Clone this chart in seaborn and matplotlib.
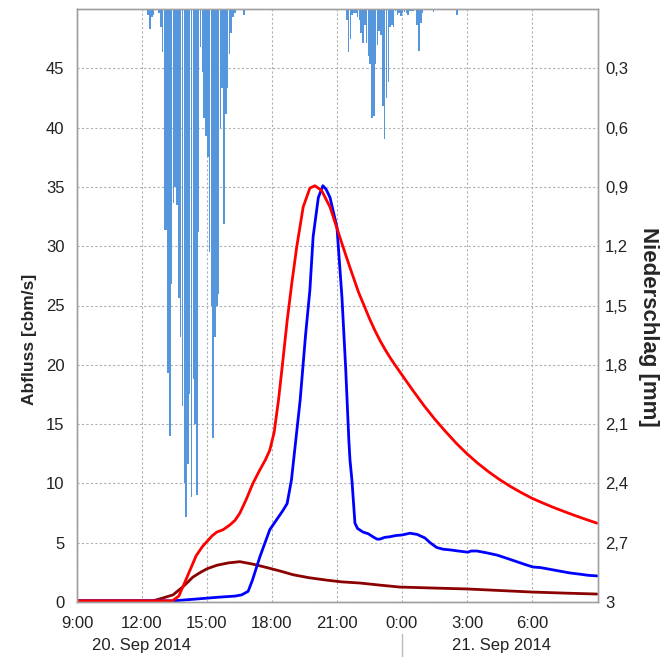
import matplotlib
matplotlib.use("Agg")
import matplotlib.pyplot as plt
import matplotlib.transforms as mtransforms
import numpy as np
import pandas as pd
import seaborn as sns

# time axis: hours since 0:00 on 20 Sep 2014
sim_t = [9.0, 13.4, 13.7, 14.08, 14.5, 14.8, 15.05, 15.25, 15.46, 15.75, 16.06, 16.3,
         16.52, 16.8, 17.12, 17.4, 17.7, 17.9, 18.1, 18.3, 18.5, 18.7, 18.91, 19.14,
         19.44, 19.75, 19.98, 20.29, 20.68, 21.27, 21.6, 22.0, 22.5, 22.75, 23.0, 23.25,
         23.5, 23.77, 24.0, 24.5, 25.0, 25.5, 26.0, 26.5, 27.0, 27.5, 28.0, 28.5, 29.0,
         29.5, 30.0, 30.5, 31.0, 31.5, 32.0, 32.5, 33.0]
sim_q = [0.1, 0.1, 0.5, 2.1, 3.9, 4.7, 5.2, 5.6, 5.9, 6.1, 6.5, 6.9,
         7.5, 8.6, 10.0, 11.0, 12.0, 12.8, 14.3, 17.0, 20.3, 23.7, 26.8, 29.9,
         33.3, 34.9, 35.1, 34.7, 33.3, 30.0, 28.2, 26.1, 23.9, 22.9, 22.0, 21.2,
         20.47, 19.75, 19.15, 17.85, 16.6, 15.45, 14.4, 13.4, 12.5, 11.7, 10.98, 10.33, 9.75,
         9.23, 8.75, 8.35, 7.97, 7.62, 7.28, 6.96, 6.65]

obs_t = [9.0, 13.45, 14.5, 15.5, 16.3, 16.6, 16.9, 17.1, 17.44, 17.9, 18.5, 18.7, 18.9,
         19.3, 19.55, 19.75, 19.9, 20.14, 20.35, 20.5, 20.68, 21.0, 21.23, 21.4,
         21.55, 21.6, 21.69, 21.83, 21.95, 22.2, 22.45, 22.66, 22.85, 22.98, 23.2,
         23.44, 23.7, 24.0, 24.37, 24.7, 25.06, 25.3, 25.6, 25.9, 26.2, 26.6, 27.04,
         27.2, 27.46, 27.9, 28.4, 28.9, 29.3, 29.7, 30.05, 30.4, 30.85, 31.3, 31.75,
         32.2, 32.6, 33.0]
obs_q = [0.1, 0.1, 0.25, 0.4, 0.5, 0.6, 0.9, 1.85, 3.8, 6.1, 7.7, 8.3, 10.3,
         17.0, 22.5, 26.3, 30.8, 34.1, 35.1, 34.8, 34.1, 31.6, 25.7, 19.8,
         13.6, 12.0, 10.3, 6.65, 6.2, 5.9, 5.75, 5.5, 5.3, 5.3, 5.45,
         5.5, 5.6, 5.65, 5.8, 5.7, 5.4, 5.0, 4.6, 4.45, 4.4, 4.3, 4.2,
         4.3, 4.3, 4.15, 3.95, 3.65, 3.4, 3.15, 2.95, 2.9, 2.75, 2.6, 2.45,
         2.35, 2.25, 2.2]

base_t = [9.0, 12.5, 12.9, 13.43, 13.9, 14.35, 14.7, 15.0, 15.46, 16.0, 16.52, 17.1,
          17.77, 18.4, 18.97, 19.7, 20.5, 21.2, 22.06, 23.0, 23.9, 25.4, 27.0, 28.5,
          30.0, 31.5, 33.0]
base_q = [0.1, 0.1, 0.3, 0.6, 1.3, 2.1, 2.5, 2.8, 3.1, 3.3, 3.4, 3.2,
          2.9, 2.6, 2.3, 2.05, 1.85, 1.7, 1.6, 1.42, 1.26, 1.18, 1.1, 0.97,
          0.84, 0.75, 0.67]

# precipitation in mm per 5 minutes
rain1_start = 12.25   # 12:15
rain1_mm = [0.03, 0.10, 0.04, 0.03, 0.0, 0.0, 0.02, 0.09, 0.22, 1.12, 1.12, 1.84,
            2.16, 1.39, 0.98, 0.90, 0.99, 1.46, 1.66, 2.01, 2.40, 2.57, 2.30, 1.95,
            2.47, 1.87, 2.10, 2.46, 1.13, 0.19, 0.32, 0.55, 0.64, 0.75, 1.23, 1.50,
            2.17, 1.66, 1.50, 1.44, 0.60, 0.40, 1.09, 0.53, 0.40, 0.23, 0.12, 0.04,
            0.02, 0.0, 0.0, 0.0, 0.0, 0.03]
rain2_start = 21 + 25 / 60   # 21:25
rain2_mm = [0.055, 0.22, 0.15, 0.03, 0.02, 0.02, 0.04, 0.055, 0.12, 0.17, 0.08, 0.17,
            0.24, 0.28, 0.55, 0.54, 0.28, 0.18, 0.11, 0.13, 0.49, 0.66, 0.45, 0.37,
            0.09, 0.08, 0.09, 0.01, 0.03, 0.02, 0.035, 0.02, 0.015, 0.02, 0.03, 0.01,
            0.01, 0.01, 0.0, 0.08, 0.21, 0.07, 0.02]
rain3_t = [25.42, 26.5]
rain3_mm = [0.015, 0.03]

x_ticks = [9, 12, 15, 18, 21, 24, 27, 30]
x_labels = ["9:00", "12:00", "15:00", "18:00", "21:00", "0:00", "3:00", "6:00"]
q_ticks = [0, 5, 10, 15, 20, 25, 30, 35, 40, 45]
p_ticks = [0.3, 0.6, 0.9, 1.2, 1.5, 1.8, 2.1, 2.4, 2.7, 3.0]
p_labels = ["0,3", "0,6", "0,9", "1,2", "1,5", "1,8", "2,1", "2,4", "2,7", "3"]
day_labels = ["20. Sep 2014", "21. Sep 2014"]

step = 5 / 60
rain = pd.concat([
    pd.DataFrame({"t": [rain1_start + i * step for i in range(len(rain1_mm))], "mm": rain1_mm}),
    pd.DataFrame({"t": [rain2_start + i * step for i in range(len(rain2_mm))], "mm": rain2_mm}),
    pd.DataFrame({"t": rain3_t, "mm": rain3_mm}),
])

sns.set_theme(style="white")
plt.rcParams["font.family"] = ["Liberation Sans", "DejaVu Sans"]

W, H = 664, 657
fig = plt.figure(figsize=(W / 100, H / 100), dpi=100)
ax = fig.add_axes([77 / W, 1 - 602 / H, (598 - 77) / W, (602 - 9) / H])
ax2 = ax.twinx()

# rain bars hang from the top on the inverted right axis
ax2.bar(rain["t"], rain["mm"], width=step * 0.85, color="#5596dc",
        linewidth=0, align="edge")
ax2.set_ylim(3, 0)

sns.lineplot(x=base_t, y=base_q, color="#8b0000", lw=2, ax=ax)
sns.lineplot(x=obs_t, y=obs_q, color="#0000ff", lw=2, ax=ax)
sns.lineplot(x=sim_t, y=sim_q, color="#ff0000", lw=2, ax=ax)

ax.set_xlim(9, 33.05)
ax.set_ylim(0, 50)
ax.set_xticks(x_ticks, x_labels)
ax.set_xticks(np.arange(9, 33.01, 0.5), minor=True)
ax.set_yticks(q_ticks)
ax2.set_yticks(p_ticks, p_labels)
ax.set_xlabel("")
ax.set_ylabel("")

grid_kw = dict(color="#b0b0b0", linestyle=(0, (2, 2)), linewidth=0.8)
ax.grid(True, which="major", axis="both", **grid_kw)
ax2.grid(False)

for a in (ax, ax2):
    for s in a.spines.values():
        s.set_color("#a0a0a0")
        s.set_linewidth(1)
ax.tick_params(axis="x", which="both", length=4, color="#999999", direction="out",
               labelsize=12, pad=6, labelcolor="#222222")
ax.tick_params(axis="y", length=0, labelsize=12, pad=9, labelcolor="#222222")
ax2.tick_params(axis="y", length=0, labelsize=12, pad=5, labelcolor="#222222")

# second row of the time axis
trans = mtransforms.blended_transform_factory(ax.transData, ax.transAxes)
ax.text(12.0, -0.073, day_labels[0], transform=trans, ha="center", va="center",
        fontsize=12, color="#222222")
ax.text(28.6, -0.073, day_labels[1], transform=trans, ha="center", va="center",
        fontsize=12, color="#222222")
ax.plot([24, 24], [-0.054, -0.093], transform=trans, color="#bbbbbb", lw=1,
        clip_on=False)

fig.text(30 / W, 1 - 339 / H, "Abfluss [cbm/s]", rotation=90, ha="center",
         va="center", fontsize=12.5, fontweight="bold")
fig.text(649 / W, 1 - 327 / H, "Niederschlag [mm]", rotation=270, ha="center",
         va="center", fontsize=16, fontweight="bold")

fig.savefig("out.png", dpi=100)
